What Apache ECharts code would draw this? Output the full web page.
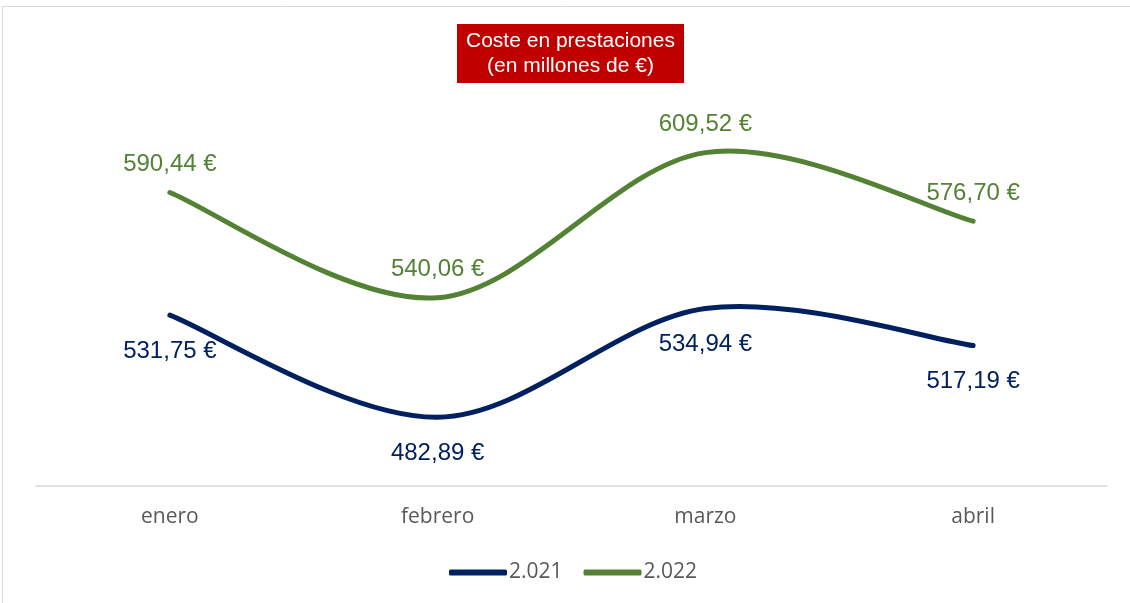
<!DOCTYPE html>
<html><head><meta charset="utf-8">
<script src="https://cdn.jsdelivr.net/npm/echarts@6/dist/echarts.min.js"></script>
<style>html,body{margin:0;padding:0;background:#fff}#c{width:1130px;height:603px}</style>
</head><body><div id="c"></div>
<script>
const categories = ['enero', 'febrero', 'marzo', 'abril'];
const values2021 = [531.75, 482.89, 534.94, 517.19];
const values2022 = [590.44, 540.06, 609.52, 576.70];
const seriesNames = ['2.021', '2.022'];
const titleText = 'Coste en prestaciones\n(en millones de €)';
const colors = ['#002060', '#548235'];

const fmt = v => v.toFixed(2).replace('.', ',') + ' €';

// Excel-like smooth curve (Catmull-Rom) drawn from data via the chart's coordinate system
function splineSeries(values, color) {
  return {
    type: 'custom', data: [0], silent: true, z: 3,
    renderItem: (params, api) => {
      const pts = values.map((v, i) => api.coord([i, v]));
      const n = pts.length;
      let d = 'M' + pts[0][0] + ',' + pts[0][1];
      for (let i = 0; i < n - 1; i++) {
        const p0 = pts[Math.max(0, i - 1)], p1 = pts[i], p2 = pts[i + 1], p3 = pts[Math.min(n - 1, i + 2)];
        const c1 = [p1[0] + (p2[0] - p0[0]) / 6, p1[1] + (p2[1] - p0[1]) / 6];
        const c2 = [p2[0] - (p3[0] - p1[0]) / 6, p2[1] - (p3[1] - p1[1]) / 6];
        d += ' C' + c1[0] + ',' + c1[1] + ' ' + c2[0] + ',' + c2[1] + ' ' + p2[0] + ',' + p2[1];
      }
      return {type: 'path', shape: {pathData: d}, style: {fill: null, stroke: color, lineWidth: 5, lineCap: 'round'}};
    }
  };
}

const chart = echarts.init(document.getElementById('c'));
chart.setOption({
  animation: false,
  graphic: [
    {type: 'rect', shape: {x: 2.5, y: 6.5, width: 1200, height: 700}, style: {fill: 'none', stroke: '#d9d9d9', lineWidth: 1}, silent: true},
    {type: 'rect', shape: {x: 457, y: 24, width: 227, height: 59}, style: {fill: '#C00000'}, z: 10},
    {type: 'text', x: 570.5, y: 53.5, style: {text: titleText, fill: '#fff', font: '21px "Liberation Sans", Arial, sans-serif', align: 'center', verticalAlign: 'middle', lineHeight: 25}, z: 11}
  ],
  grid: {left: 36, right: 23, top: 68, bottom: 117},
  xAxis: {
    type: 'category', data: categories, boundaryGap: true,
    axisLine: {lineStyle: {color: '#d9d9d9', width: 1.5}},
    axisTick: {show: false},
    axisLabel: {color: '#595959', fontFamily: 'Open Sans', fontSize: 21, margin: 21}
  },
  yAxis: {type: 'value', min: 450, max: 650, show: false, splitLine: {show: false}},
  legend: {
    bottom: 15, left: 444, itemWidth: 58, itemHeight: 6, itemGap: 21, icon: 'roundRect',
    data: seriesNames,
    textStyle: {color: '#595959', fontFamily: 'Open Sans', fontSize: 21, padding: [0,0,0,-3]}
  },
  series: [
    {name: seriesNames[0], type: 'line', data: values2021, symbol: 'circle', symbolSize: 0, showSymbol: true,
     lineStyle: {color: colors[0], width: 5, opacity: 0}, itemStyle: {color: colors[0]},
     label: {show: true, position: 'bottom', distance: 24, color: colors[0], fontFamily: '"Liberation Sans", Arial', fontSize: 24, formatter: p => fmt(p.value)}},
    {name: seriesNames[1], type: 'line', data: values2022, symbol: 'circle', symbolSize: 0, showSymbol: true,
     lineStyle: {color: colors[1], width: 5, opacity: 0}, itemStyle: {color: colors[1]},
     label: {show: true, position: 'top', distance: 16, color: colors[1], fontFamily: '"Liberation Sans", Arial', fontSize: 24, formatter: p => fmt(p.value)}},
    splineSeries(values2021, colors[0]),
    splineSeries(values2022, colors[1])
  ]
});
</script></body></html>
